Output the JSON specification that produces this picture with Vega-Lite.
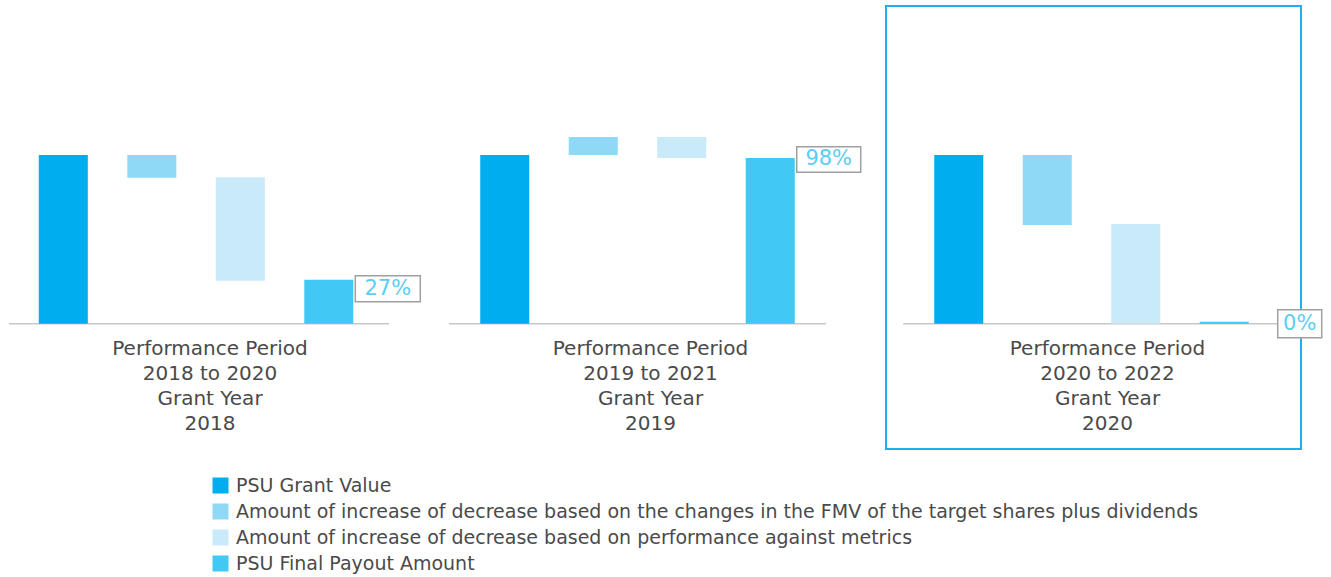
{
  "$schema": "https://vega.github.io/schema/vega-lite/v6.json",
  "padding": {"left": 8, "top": 5, "right": 0, "bottom": 0},
  "autosize": {"type": "pad"},
  "bounds": "flush",
  "spacing": 60,
  "background": "white",
  "config": {
    "view": {"stroke": null},
    "font": "DejaVu Sans",
    "legend": {
      "orient": "none",
      "legendX": 202,
      "legendY": 470,
      "title": null,
      "padding": 0,
      "symbolType": "square",
      "symbolSize": 256,
      "symbolStrokeWidth": 0,
      "labelFontSize": 19,
      "labelColor": "#4a4a4a",
      "labelLimit": 1200,
      "labelOffset": 6,
      "rowPadding": 6,
      "labelFont": "DejaVu Sans"
    }
  },
  "datasets": {
    "bars": [
      {"panel": 1, "bar": "g", "type": "PSU Grant Value", "start": 0, "end": 100},
      {"panel": 1, "bar": "f", "type": "Amount of increase of decrease based on the changes in the FMV of the target shares plus dividends", "start": 100, "end": 86.5},
      {"panel": 1, "bar": "p", "type": "Amount of increase of decrease based on performance against metrics", "start": 86.8, "end": 25.5},
      {"panel": 1, "bar": "r", "type": "PSU Final Payout Amount", "start": 0, "end": 26},
      {"panel": 2, "bar": "g", "type": "PSU Grant Value", "start": 0, "end": 100},
      {"panel": 2, "bar": "f", "type": "Amount of increase of decrease based on the changes in the FMV of the target shares plus dividends", "start": 100, "end": 110.7},
      {"panel": 2, "bar": "p", "type": "Amount of increase of decrease based on performance against metrics", "start": 110.7, "end": 98.2},
      {"panel": 2, "bar": "r", "type": "PSU Final Payout Amount", "start": 0, "end": 98.2},
      {"panel": 3, "bar": "g", "type": "PSU Grant Value", "start": 0, "end": 100},
      {"panel": 3, "bar": "f", "type": "Amount of increase of decrease based on the changes in the FMV of the target shares plus dividends", "start": 100, "end": 58.5},
      {"panel": 3, "bar": "p", "type": "Amount of increase of decrease based on performance against metrics", "start": 59.1, "end": 0},
      {"panel": 3, "bar": "r", "type": "PSU Final Payout Amount", "start": 0, "end": 1.2}
    ],
    "labels": [
      {"panel": 1, "bar": "r", "label": "27%", "value": 26, "caption": "Performance Period\n2018 to 2020\nGrant Year\n2018"},
      {"panel": 2, "bar": "r", "label": "98%", "value": 98.2, "caption": "Performance Period\n2019 to 2021\nGrant Year\n2019"},
      {"panel": 3, "bar": "r", "label": "0%", "value": 1.2, "caption": "Performance Period\n2020 to 2022\nGrant Year\n2020"}
    ]
  },
  "hconcat": [
    {
      "width": 380,
      "height": 443,
      "layer": [
        {
          "data": {"name": "labels"},
          "transform": [{"filter": "datum.panel == 1"}],
          "mark": {"type": "rule", "color": "#C8C8C8", "strokeWidth": 1.5},
          "encoding": {"y": {"datum": 0, "type": "quantitative", "scale": {"domain": [-74.3, 188.3], "nice": false, "zero": false}, "axis": null}}
        },
        {
          "data": {"name": "bars"},
          "transform": [{"filter": "datum.panel == 1"}],
          "mark": {"type": "bar"},
          "encoding": {
            "x": {"field": "bar", "type": "nominal", "sort": ["g", "f", "p", "r"], "scale": {"domain": ["g", "f", "p", "r"], "paddingInner": 0.446, "paddingOuter": 0.37, "align": 0.455}, "axis": null},
            "y": {"field": "start", "type": "quantitative", "scale": {"domain": [-74.3, 188.3], "nice": false, "zero": false}, "axis": null},
            "y2": {"field": "end"},
            "color": {"field": "type", "type": "nominal", "scale": {"domain": ["PSU Grant Value", "Amount of increase of decrease based on the changes in the FMV of the target shares plus dividends", "Amount of increase of decrease based on performance against metrics", "PSU Final Payout Amount"], "range": ["#00AEEF", "#8FD9F7", "#C8EAF9", "#41C8F4"]}, "sort": null}
          }
        },
        {
          "data": {"name": "labels"},
          "transform": [{"filter": "datum.panel == 1"}],
          "mark": {"type": "point", "shape": "M-1,-0.4H1V0.4H-1Z", "size": 4225, "filled": true, "fill": "white", "stroke": "#A0A0A0", "strokeWidth": 1.5, "opacity": 1, "xOffset": 59, "yOffset": 9},
          "encoding": {
            "x": {"field": "bar", "type": "nominal", "scale": {"domain": ["g", "f", "p", "r"], "paddingInner": 0.446, "paddingOuter": 0.37, "align": 0.455}, "axis": null},
            "y": {"field": "value", "type": "quantitative", "scale": {"domain": [-74.3, 188.3], "nice": false, "zero": false}, "axis": null}
          }
        },
        {
          "data": {"name": "labels"},
          "transform": [{"filter": "datum.panel == 1"}],
          "mark": {"type": "text", "fontSize": 21, "color": "#5CCDF5", "xOffset": 59, "yOffset": 9, "align": "center", "baseline": "middle"},
          "encoding": {
            "x": {"field": "bar", "type": "nominal", "scale": {"domain": ["g", "f", "p", "r"], "paddingInner": 0.446, "paddingOuter": 0.37, "align": 0.455}, "axis": null},
            "y": {"field": "value", "type": "quantitative", "scale": {"domain": [-74.3, 188.3], "nice": false, "zero": false}, "axis": null},
            "text": {"field": "label"}
          }
        },
        {
          "data": {"name": "labels"},
          "transform": [{"filter": "datum.panel == 1"}],
          "mark": {"type": "text", "fontSize": 20, "lineHeight": 25, "lineBreak": "\n", "color": "#4a4a4a", "align": "center", "baseline": "alphabetic", "dx": 11},
          "encoding": {
            "y": {"datum": -18.6, "type": "quantitative", "scale": {"domain": [-74.3, 188.3], "nice": false, "zero": false}, "axis": null},
            "text": {"field": "caption"}
          }
        }
      ]
    },
    {
      "width": 377,
      "height": 443,
      "layer": [
        {
          "data": {"name": "labels"},
          "transform": [{"filter": "datum.panel == 2"}],
          "mark": {"type": "rule", "color": "#C8C8C8", "strokeWidth": 1.5},
          "encoding": {"y": {"datum": 0, "type": "quantitative", "scale": {"domain": [-74.3, 188.3], "nice": false, "zero": false}, "axis": null}}
        },
        {
          "data": {"name": "bars"},
          "transform": [{"filter": "datum.panel == 2"}],
          "mark": {"type": "bar"},
          "encoding": {
            "x": {"field": "bar", "type": "nominal", "scale": {"domain": ["g", "f", "p", "r"], "paddingInner": 0.446, "paddingOuter": 0.353, "align": 0.5}, "axis": null},
            "y": {"field": "start", "type": "quantitative", "scale": {"domain": [-74.3, 188.3], "nice": false, "zero": false}, "axis": null},
            "y2": {"field": "end"},
            "color": {"field": "type", "type": "nominal", "sort": null}
          }
        },
        {
          "data": {"name": "labels"},
          "transform": [{"filter": "datum.panel == 2"}],
          "mark": {"type": "point", "shape": "M-1,-0.4H1V0.4H-1Z", "size": 4096, "filled": true, "fill": "white", "stroke": "#A0A0A0", "strokeWidth": 1.5, "opacity": 1, "xOffset": 58.5, "yOffset": 1.5},
          "encoding": {
            "x": {"field": "bar", "type": "nominal", "scale": {"domain": ["g", "f", "p", "r"], "paddingInner": 0.446, "paddingOuter": 0.353, "align": 0.5}, "axis": null},
            "y": {"field": "value", "type": "quantitative", "scale": {"domain": [-74.3, 188.3], "nice": false, "zero": false}, "axis": null}
          }
        },
        {
          "data": {"name": "labels"},
          "transform": [{"filter": "datum.panel == 2"}],
          "mark": {"type": "text", "fontSize": 21, "color": "#5CCDF5", "xOffset": 58.5, "yOffset": 1.5, "align": "center", "baseline": "middle"},
          "encoding": {
            "x": {"field": "bar", "type": "nominal", "scale": {"domain": ["g", "f", "p", "r"], "paddingInner": 0.446, "paddingOuter": 0.353, "align": 0.5}, "axis": null},
            "y": {"field": "value", "type": "quantitative", "scale": {"domain": [-74.3, 188.3], "nice": false, "zero": false}, "axis": null},
            "text": {"field": "label"}
          }
        },
        {
          "data": {"name": "labels"},
          "transform": [{"filter": "datum.panel == 2"}],
          "mark": {"type": "text", "fontSize": 20, "lineHeight": 25, "lineBreak": "\n", "color": "#4a4a4a", "align": "center", "baseline": "alphabetic", "dx": 13},
          "encoding": {
            "y": {"datum": -18.6, "type": "quantitative", "scale": {"domain": [-74.3, 188.3], "nice": false, "zero": false}, "axis": null},
            "text": {"field": "caption"}
          }
        }
      ]
    },
    {
      "width": 415,
      "height": 443,
      "view": {"stroke": "#1AAFEF", "strokeWidth": 2},
      "layer": [
        {
          "data": {"name": "labels"},
          "transform": [{"filter": "datum.panel == 3"}],
          "mark": {"type": "rule", "color": "#C8C8C8", "strokeWidth": 1.5, "xOffset": -55.5, "x2Offset": 57.5},
          "encoding": {
            "x": {"datum": "g", "type": "nominal", "scale": {"domain": ["g", "f", "p", "r"], "paddingInner": 0.446, "paddingOuter": 0.568, "align": 0.48}, "axis": null},
            "x2": {"datum": "r"},
            "y": {"datum": 0, "type": "quantitative", "scale": {"domain": [-74.3, 188.3], "nice": false, "zero": false}, "axis": null}
          }
        },
        {
          "data": {"name": "bars"},
          "transform": [{"filter": "datum.panel == 3"}],
          "mark": {"type": "bar"},
          "encoding": {
            "x": {"field": "bar", "type": "nominal", "scale": {"domain": ["g", "f", "p", "r"], "paddingInner": 0.446, "paddingOuter": 0.568, "align": 0.48}, "axis": null},
            "y": {"field": "start", "type": "quantitative", "scale": {"domain": [-74.3, 188.3], "nice": false, "zero": false}, "axis": null},
            "y2": {"field": "end"},
            "color": {"field": "type", "type": "nominal", "sort": null}
          }
        },
        {
          "data": {"name": "labels"},
          "transform": [{"filter": "datum.panel == 3"}],
          "mark": {"type": "point", "shape": "M-1,-0.636H1V0.636H-1Z", "size": 1936, "filled": true, "fill": "white", "stroke": "#A0A0A0", "strokeWidth": 1.5, "opacity": 1, "xOffset": 75.5, "yOffset": 2},
          "encoding": {
            "x": {"field": "bar", "type": "nominal", "scale": {"domain": ["g", "f", "p", "r"], "paddingInner": 0.446, "paddingOuter": 0.568, "align": 0.48}, "axis": null},
            "y": {"field": "value", "type": "quantitative", "scale": {"domain": [-74.3, 188.3], "nice": false, "zero": false}, "axis": null}
          }
        },
        {
          "data": {"name": "labels"},
          "transform": [{"filter": "datum.panel == 3"}],
          "mark": {"type": "text", "fontSize": 21, "color": "#5CCDF5", "xOffset": 75.5, "yOffset": 2, "align": "center", "baseline": "middle"},
          "encoding": {
            "x": {"field": "bar", "type": "nominal", "scale": {"domain": ["g", "f", "p", "r"], "paddingInner": 0.446, "paddingOuter": 0.568, "align": 0.48}, "axis": null},
            "y": {"field": "value", "type": "quantitative", "scale": {"domain": [-74.3, 188.3], "nice": false, "zero": false}, "axis": null},
            "text": {"field": "label"}
          }
        },
        {
          "data": {"name": "labels"},
          "transform": [{"filter": "datum.panel == 3"}],
          "mark": {"type": "text", "fontSize": 20, "lineHeight": 25, "lineBreak": "\n", "color": "#4a4a4a", "align": "center", "baseline": "alphabetic", "dx": 14},
          "encoding": {
            "y": {"datum": -18.6, "type": "quantitative", "scale": {"domain": [-74.3, 188.3], "nice": false, "zero": false}, "axis": null},
            "text": {"field": "caption"}
          }
        }
      ]
    }
  ],
  "resolve": {"scale": {"color": "shared"}}
}
